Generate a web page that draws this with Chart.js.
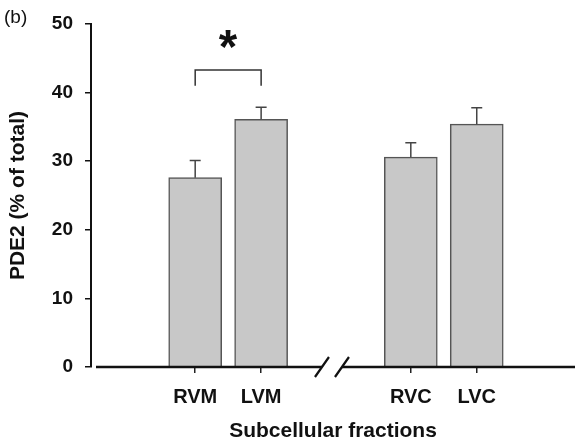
<!DOCTYPE html>
<html><head><meta charset="utf-8">
<script src="https://cdn.jsdelivr.net/npm/chart.js@4/dist/chart.umd.min.js"></script>
<style>html,body{margin:0;padding:0;background:#fff;overflow:hidden}</style>
</head><body>
<canvas id="c" width="575" height="441"></canvas>
<script>
// ---- data ----
const categories = ['RVM', 'LVM', 'RVC', 'LVC'];
const means = [27.6, 36.1, 30.6, 35.4];
const errors = [2.5, 1.75, 2.1, 2.4];
const yTicks = [0, 10, 20, 30, 40, 50];
const panelLabel = '(b)';
const yTitle = 'PDE2 (% of total)';
const xTitle = 'Subcellular fractions';
const sigPair = [0, 1];          // RVM vs LVM
const sigBracket = [41.0, 43.3]; // bracket leg bottom / top (y units)
const sigMark = '*';
const sigMarkY = 47.8;

// ---- layout ----
const FONT = "'Liberation Sans', Arial, sans-serif";
const GROUP_GAP = 1.27;
const slot = i => i + (i >= 2 ? GROUP_GAP : 0);

const overlay = {
  id: 'overlay',
  afterDatasetsDraw(chart) {
    const ctx = chart.ctx, xs = chart.scales.x, ys = chart.scales.y, ca = chart.chartArea;
    ctx.save();
    // error bars (upper only)
    ctx.strokeStyle = '#444'; ctx.lineWidth = 1.5;
    means.forEach((m, i) => {
      const px = xs.getPixelForValue(slot(i));
      const t = ys.getPixelForValue(m), c = ys.getPixelForValue(m + errors[i]);
      ctx.beginPath();
      ctx.moveTo(px, t); ctx.lineTo(px, c);
      ctx.moveTo(px - 5.5, c); ctx.lineTo(px + 5.5, c);
      ctx.stroke();
    });
    // x axis line with break
    const y0 = ys.getPixelForValue(0);
    const mid = (xs.getPixelForValue(slot(1)) + xs.getPixelForValue(slot(2))) / 2 - 4;
    const c1 = mid - 10, c2 = mid + 10;
    ctx.strokeStyle = '#111'; ctx.lineWidth = 2.5;
    ctx.beginPath();
    ctx.moveTo(ca.left + 5, y0); ctx.lineTo(c1, y0);
    ctx.moveTo(c2, y0); ctx.lineTo(ca.right, y0);
    ctx.stroke();
    ctx.lineWidth = 2.2;
    ctx.beginPath();
    [c1, c2].forEach(cx => { ctx.moveTo(cx - 7, y0 + 10); ctx.lineTo(cx + 7, y0 - 10); });
    ctx.stroke();
    // significance bracket
    const bx1 = xs.getPixelForValue(slot(sigPair[0])), bx2 = xs.getPixelForValue(slot(sigPair[1]));
    const yb = ys.getPixelForValue(sigBracket[0]), yt = ys.getPixelForValue(sigBracket[1]);
    ctx.strokeStyle = '#333'; ctx.lineWidth = 1.5;
    ctx.beginPath();
    ctx.moveTo(bx1, yb); ctx.lineTo(bx1, yt); ctx.lineTo(bx2, yt); ctx.lineTo(bx2, yb);
    ctx.stroke();
    // asterisk, sized to ~18px glyph height
    ctx.fillStyle = '#111';
    ctx.font = `bold 100px ${FONT}`;
    let m = ctx.measureText(sigMark);
    const h100 = m.actualBoundingBoxAscent + m.actualBoundingBoxDescent;
    const size = 100 * 18 / h100;
    ctx.font = `bold ${size}px ${FONT}`;
    m = ctx.measureText(sigMark);
    const cy = ys.getPixelForValue(sigMarkY);
    const cx = (bx1 + bx2) / 2;
    ctx.textAlign = 'left'; ctx.textBaseline = 'alphabetic';
    const gx = cx - (m.actualBoundingBoxRight - m.actualBoundingBoxLeft) / 2 + m.actualBoundingBoxLeft;
    const gy = cy + (m.actualBoundingBoxAscent - m.actualBoundingBoxDescent) / 2;
    ctx.fillText(sigMark, gx, gy);
    // panel label
    ctx.font = `19px ${FONT}`;
    ctx.fillStyle = '#111';
    ctx.fillText(panelLabel, 4, 23);
    ctx.restore();
  }
};

new Chart(document.getElementById('c'), {
  type: 'bar',
  data: {
    datasets: [{
      data: categories.map((c, i) => ({ x: slot(i), y: means[i] })),
      backgroundColor: '#c8c8c8',
      borderColor: '#555',
      borderWidth: 1.5,
      borderSkipped: 'bottom',
      barThickness: 53
    }]
  },
  options: {
    responsive: false,
    animation: false,
    devicePixelRatio: 1,
    layout: { padding: { top: 24, left: 0, right: 0, bottom: 0 } },
    plugins: { legend: { display: false }, tooltip: { enabled: false } },
    scales: {
      x: {
        type: 'linear',
        min: -1.58, max: 5.76,
        offset: false,
        grid: { offset: false, drawOnChartArea: false, drawTicks: true, tickLength: 6, color: '#222', lineWidth: 1.5 },
        border: { display: false },
        afterBuildTicks: s => { s.ticks = categories.map((c, i) => ({ value: slot(i) })); },
        afterFit: s => { s.height = 74; },
        ticks: {
          autoSkip: false, maxRotation: 0, minRotation: 0,
          padding: 12, color: '#111',
          font: { family: FONT, size: 20, weight: 'bold' },
          callback: (v, i) => categories[i]
        },
        title: {
          display: true, text: xTitle, color: '#111',
          font: { family: FONT, size: 21, weight: 'bold', lineHeight: 0.9 },
          padding: 0
        }
      },
      y: {
        min: 0, max: 50,
        grid: { drawOnChartArea: false, drawTicks: true, tickLength: 6, color: '#111', lineWidth: 1.5 },
        border: { display: true, color: '#111', width: 2 },
        afterBuildTicks: s => { s.ticks = yTicks.map(v => ({ value: v })); },
        afterFit: s => { s.width = 91; },
        ticks: {
          padding: 12, color: '#111',
          font: { family: FONT, size: 19, weight: 'bold' }
        },
        title: {
          display: true, text: yTitle, color: '#111',
          font: { family: FONT, size: 21, weight: 'bold' },
          padding: { top: 5.4, bottom: 0 }
        }
      }
    }
  },
  plugins: [overlay]
});
</script>
</body></html>
